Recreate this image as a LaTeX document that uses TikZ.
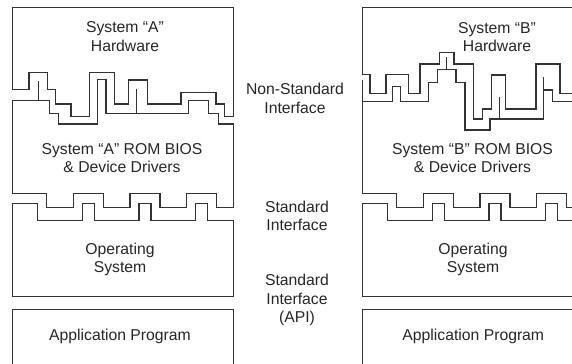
\documentclass[tikz,border=0pt]{standalone}
\usepackage{fontspec}
\setmainfont{Liberation Sans}
\newcommand{\lblsize}{\fontsize{11.8pt}{13.7pt}\selectfont}

\begin{document}
\begin{tikzpicture}[x=0.75pt,y=-0.75pt]
\tikzstyle{box} = [draw=black!80,line width=1pt]
\tikzstyle{lbl} = [align=center,font=\lblsize,text=black!85,inner sep=0pt]

\useasboundingbox (0,0) rectangle (572,364);
\clip (0,0) rectangle (572,364);

% left stack, system A
\draw[box] (12.5,89.3) -| (29,72.7) -| (47.7,89.3) -| (55.7,104) -| (71,116.7) -| (89.3,72.7)
  -| (114.3,104) -| (128.3,80) -| (147.3,104) -| (181,92.3) -| (216,104) -| (224.3,116.7)
  -- (233.5,116.7) |- (12.5,7.3) -- cycle;
\draw[box] (12.5,100.7) -| (49.3,113.3) -| (58.3,124) -| (97.7,79.3) -| (106,113.3) -| (188.3,100.7)
  -| (208.3,113.3) -| (218.3,124) -- (233.5,124) -- (233.5,207.3)
  -| (216.7,193.3) -| (186.7,207.3) -| (160,193.3) -| (130,207.3) -| (103.3,193.3) -| (73.3,207.3)
  -| (46.7,193.3) -- (12.5,193.3) -- cycle;
\draw[box] (38.3,100.7) -- (38.3,80.7);
\draw[box] (136.7,113.3) -- (136.7,89.3);

% right stack, system B
\draw[box] (362.3,74.3) -| (370,93.3) -| (386,74.3) -| (408.3,93.3) -| (420,64) -| (439.3,52.3)
  -| (454,64) -| (473.3,119) -| (482.7,109) -| (491.7,75) -| (505.7,109) -| (536,64) -| (560,93.3)
  -- (590,93.3) -- (590,7.3) -| (362.3,74.3);
\draw[box] (590,101.7) -| (552.7,90) -| (543.3,119) -| (490,130) -| (465,82.3) -| (456,69.3)
  -| (437.7,82.3) -| (428.3,101.7) -| (400.7,86.7) -| (392.7,101.7) -- (362.3,101.7);
\draw[box] (362.3,80) -- (362.3,193.3) -| (396.7,207.3) -| (423.3,193.3) -| (453.3,207.3) -| (480,193.3)
  -| (510,207.3) -| (536.7,193.3) -| (566.7,207.3) -- (590,207.3);
\draw[box] (446.7,69.3) -- (446.7,56.7);
\draw[box] (499.3,119) -- (499.3,96.7);
\draw[box] (543.3,90) -- (543.3,76.7);

% operating system and application, same on both sides
\foreach \dx in {0,350} {
  \draw[box] (\dx+12.5,296.7) -- (\dx+12.5,203.3) -| (\dx+37.5,220.7) -| (\dx+82.3,203.3) -| (\dx+94.3,220.7)
    -| (\dx+139,203.3) -| (\dx+151,220.7) -| (\dx+195.7,203.3) -| (\dx+207.7,220.7) -- (\dx+233.5,220.7)
    -- (\dx+233.5,296.7) -- cycle;
  \draw[box] (\dx+12.5,370) -- (\dx+12.5,309.3) -- (\dx+233.5,309.3) -- (\dx+233.5,370);
}

\node[lbl] (hwA) at (125,36.7) {System “A”\\Hardware};
\node[lbl] (biosA) at (122,158) {System “A” ROM BIOS\\\& Device Drivers};
\node[lbl] (osA) at (120,259.5) {Operating\\System};
\node[lbl] (appA) at (120,336) {Application Program};

\node[lbl] (hwB) at (497,37) {System “B”\\Hardware};
\node[lbl] (biosB) at (472.5,158) {System “B” ROM BIOS\\\& Device Drivers};
\node[lbl] (osB) at (473,259.5) {Operating\\System};
\node[lbl] (appB) at (473.3,336) {Application Program};

\node[lbl] (nonstd) at (295,98.3) {Non-Standard\\Interface};
\node[lbl] (stdif) at (297,215.9) {Standard\\Interface};
\node[lbl] (apiif) at (297,300) {Standard\\Interface\\(API)};

\end{tikzpicture}
\end{document}
